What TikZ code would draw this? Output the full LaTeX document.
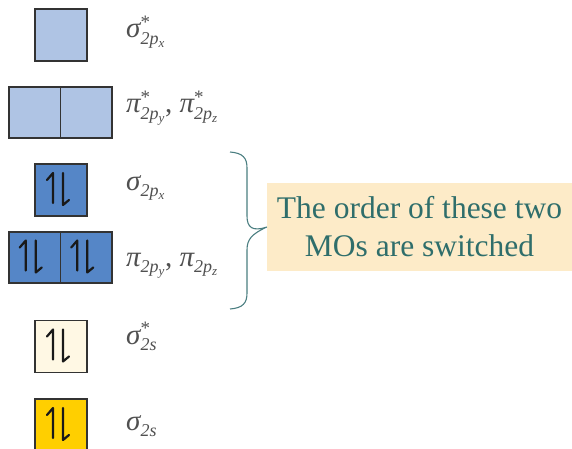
\documentclass[tikz,border=0pt]{standalone}
\usepackage{fontspec}
\setmainfont{Liberation Serif}
\definecolor{antibond}{HTML}{AFC4E4}
\definecolor{bondblue}{HTML}{5586C7}
\definecolor{creamfill}{HTML}{FFF8E4}
\definecolor{goldfill}{HTML}{FFCF00}
\definecolor{edgegray}{HTML}{333333}
\definecolor{labelgray}{HTML}{505050}
\definecolor{noteteal}{HTML}{2F6E6B}
\definecolor{notefill}{HTML}{FDEBC8}
\definecolor{bracecol}{HTML}{4A7E80}
% orbital symbol: letter, superscript, subscript, second-level subscript
\newcommand\orbsym[4]{\ensuremath{\mbox{\itshape #1}%
  ^{\mbox{\fontsize{19}{19}\selectfont #2}}%
  _{\mbox{\fontsize{18}{18}\selectfont\itshape #3\raisebox{-3.5pt}{\fontsize{13}{13}\selectfont #4}}}}}
\begin{document}
\begin{tikzpicture}[x=1pt,y=-1pt,
  orbital/.style={draw=edgegray,line width=1.5pt,minimum width=52pt,minimum height=52pt,inner sep=0pt,outer sep=0pt},
  halforb/.style={draw=edgegray,line width=1.5pt,minimum width=51.5pt,minimum height=51pt,inner sep=0pt,outer sep=0pt},
  molabel/.style={anchor=base west,text=labelgray,font=\fontsize{29}{32}\selectfont,inner sep=0pt},
  spinline/.style={line width=2.2pt,line cap=round,line join=round,draw=black!90},
  pairspin/.pic={
    \draw[spinline] (-8,13) -- (-8,-17) -- (-14,-10);
    \draw[spinline] (2,-17) -- (2,15) -- (8,10);
  }]
\useasboundingbox (0,0) rectangle (572,449);

% empty antibonding levels
\node[orbital,fill=antibond] (sxs) at (61,35) {};
\node[halforb,fill=antibond] (pys) at (34.75,112.5) {};
\node[halforb,fill=antibond] (pzs) at (86.25,112.5) {};

% filled bonding 2p levels
\node[orbital,fill=bondblue] (sx) at (61,190) {};
\node[halforb,fill=bondblue] (py) at (34.75,257.5) {};
\node[halforb,fill=bondblue] (pz) at (86.25,257.5) {};

% 2s levels
\node[orbital,fill=creamfill] (s2s) at (61,346.5) {};
\node[orbital,fill=goldfill] (b2s) at (61,425) {};

% electron pairs
\path (sx.center) pic {pairspin};
\path ([xshift=-1pt]py.center) pic {pairspin};
\path ([xshift=-1pt]pz.center) pic {pairspin};
\path (s2s.center) pic {pairspin};
\path (b2s.center) pic {pairspin};

% level labels
\node[molabel] (lsxs) at (126,38) {\orbsym{σ}{*}{2p}{x}};
\node[molabel] (lps) at (126,113) {\orbsym{π}{*}{2p}{y}, \orbsym{π}{*}{2p}{z}};
\node[molabel] (lsx) at (126,190) {\orbsym{σ}{}{2p}{x}};
\node[molabel] (lp) at (126,266) {\orbsym{π}{}{2p}{y}, \orbsym{π}{}{2p}{z}};
\node[molabel] (ls2s) at (126,344) {\orbsym{σ}{*}{2s}{}};
\node[molabel] (lb2s) at (126,430) {\orbsym{σ}{}{2s}{}};

% note box
\node[fill=notefill,text=noteteal,minimum width=305pt,minimum height=88pt,
      align=center,inner sep=0pt,font=\fontsize{31.5}{38}\selectfont] (note) at (419.5,227)
  {The order of these two\\MOs are switched};

% brace grouping the two swapped levels
\coordinate (btop) at (230,152);
\coordinate (bbot) at (230,309);
\draw[bracecol,line width=1.1pt]
  (btop) .. controls (243,153) and (247,158) .. (247,168)
  -- (247,216)
  .. controls (247,227) and (252,232) .. (note.west)
  .. controls (252,234) and (247,239) .. (247,250)
  -- (247,293)
  .. controls (247,303) and (243,308) .. (bbot);
\end{tikzpicture}
\end{document}
